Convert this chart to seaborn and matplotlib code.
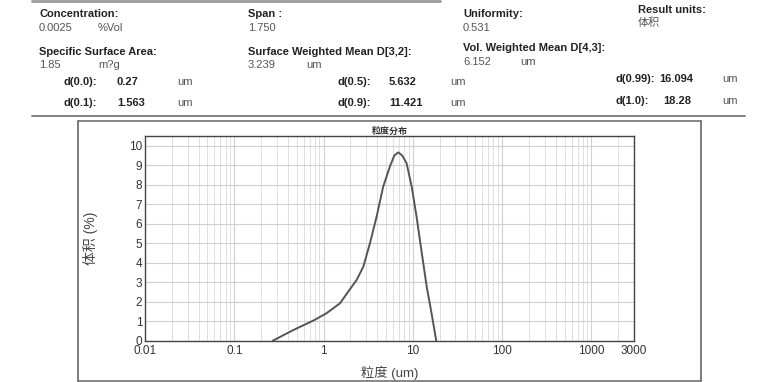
import matplotlib
matplotlib.use("Agg")
import matplotlib.pyplot as plt
import seaborn as sns
import pandas as pd
import numpy as np
from matplotlib.lines import Line2D
from matplotlib.ticker import FixedLocator, LogLocator, NullFormatter

# ---- data ----
size_um = [0.27, 0.46, 0.79, 1.08, 1.53, 1.89, 2.35, 2.79, 3.31, 3.93, 4.66,
           5.54, 6.2, 6.87, 7.6, 8.5, 9.7, 11.0, 12.6, 14.3, 16.2, 18.28]
volume_pct = [0.0, 0.55, 1.06, 1.41, 1.92, 2.52, 3.12, 3.8, 5.0, 6.37, 7.91,
              8.94, 9.5, 9.66, 9.5, 9.11, 7.91, 6.37, 4.49, 2.77, 1.41, 0.0]
x_ticks = [0.01, 0.1, 1, 10, 100, 1000, 3000]
x_tick_labels = ["0.01", "0.1", "1", "10", "100", "1000", "3000"]
y_ticks = list(range(0, 11))

header_labels = [
    ("Concentration:", "0.0025", "%Vol"),
    ("Span :", "1.750", ""),
    ("Uniformity:", "0.531", ""),
    ("Result units:", "体积", ""),
    ("Specific Surface Area:", "1.85", "m?g"),
    ("Surface Weighted Mean D[3,2]:", "3.239", "um"),
    ("Vol. Weighted Mean D[4,3]:", "6.152", "um"),
]
d_values = [
    ("d(0.0):", "0.27"), ("d(0.1):", "1.563"),
    ("d(0.5):", "5.632"), ("d(0.9):", "11.421"),
    ("d(0.99):", "16.094"), ("d(1.0):", "18.28"),
]

sns.set_theme(style="white")
plt.rcParams['font.family'] = ['Liberation Sans', 'Noto Sans CJK SC', 'DejaVu Sans']

W, H = 771, 382
fig = plt.figure(figsize=(W / 100, H / 100), dpi=100)

def fx(px):
    return px / W

def fy(py):
    return 1 - py / H

ax = fig.add_axes([fx(145), fy(340.7), fx(634) - fx(145), fy(136) - fy(340.7)])

df = pd.DataFrame({"size": size_um, "vol": volume_pct})
sns.lineplot(data=df, x="size", y="vol", ax=ax, color="#555555", linewidth=1.4,
             sort=False)

ax.set_xscale("log")
ax.set_xlim(0.01, 3000)
ax.set_ylim(0, 10.5)

ax.xaxis.set_major_locator(FixedLocator(x_ticks))
ax.set_xticklabels(x_tick_labels)
ax.xaxis.set_minor_locator(LogLocator(base=10, subs=np.arange(2, 10)))
ax.xaxis.set_minor_formatter(NullFormatter())
ax.set_yticks(y_ticks)
ax.set_yticklabels([str(v) for v in y_ticks])

ax.grid(True, which="major", axis="both", color="#d0d0d0", linewidth=0.8)
ax.grid(True, which="minor", axis="x", color="#dedede", linewidth=0.7)
ax.set_axisbelow(True)

ax.tick_params(axis="both", which="both", length=0, labelsize=8.5,
               labelcolor="#333333")
ax.tick_params(axis="x", pad=3)
ax.tick_params(axis="y", pad=2)
for s in ax.spines.values():
    s.set_color("#444444")
    s.set_linewidth(1.0)

ax.set_xlabel("粒度 (um)", fontsize=9.5, color="#444444", labelpad=6)
ax.set_ylabel("体积 (%)", fontsize=10, color="#444444", labelpad=22)
ax.set_title("粒度分布", fontsize=6.5, color="#333333", pad=1.5, fontweight="bold")

# ---- frame lines ----
def hline(x0, x1, y, color="#666666", lw=1.2):
    fig.add_artist(Line2D([fx(x0), fx(x1)], [fy(y), fy(y)], color=color, lw=lw,
                          transform=fig.transFigure))

def vline(x, y0, y1, color="#666666", lw=1.2):
    fig.add_artist(Line2D([fx(x), fx(x)], [fy(y0), fy(y1)], color=color, lw=lw,
                          transform=fig.transFigure))

hline(32, 440, 0.8, color="#9a9a9a", lw=2.0)
hline(32, 745, 116, color="#777777", lw=1.3)
hline(77.5, 700.5, 121.2, color="#666666", lw=1.1)
hline(77.5, 700.5, 380.5, color="#666666", lw=1.1)
vline(77.5, 121.2, 380.5)
vline(700.5, 121.2, 380.5)

# ---- header texts ----
bold_c = "#222222"
val_c = "#555555"
fs = 8

def txt(x, y, s, bold=False, color=None, ha="left"):
    fig.text(fx(x), fy(y), s, fontsize=fs, ha=ha, va="center",
             fontweight="bold" if bold else "normal",
             color=color or (bold_c if bold else val_c))

pos_top = [(39, 14, 28), (248, 14, 28), (463, 14, 28), (638, 10, 23)]
for (lab, val, unit), (x, y1, y2) in zip(header_labels[:4], pos_top):
    txt(x, y1, lab, bold=True)
    txt(x, y2, val)
    if unit:
        txt(98, y2, unit)

pos_mid = [(39, 52, 65, 98), (248, 52, 65, 306), (463, 48, 62, 520)]
for (lab, val, unit), (x, y1, y2, ux) in zip(header_labels[4:], pos_mid):
    txt(x, y1, lab, bold=True)
    txt(x, y2, val)
    txt(ux, y2, unit)

d_pos = [(63, 117, 177, 82), (63, 117, 177, 103),
         (338, 389, 450, 82), (338, 389, 450, 103),
         (615, 659, 722, 79), (615, 663, 722, 101)]
for (lab, val), (xl, xv, xu, y) in zip(d_values, d_pos):
    txt(xl, y, lab, bold=True)
    txt(xv, y, val, bold=True)
    txt(xu, y, "um")

fig.savefig("out.png", dpi=100, facecolor="white")
